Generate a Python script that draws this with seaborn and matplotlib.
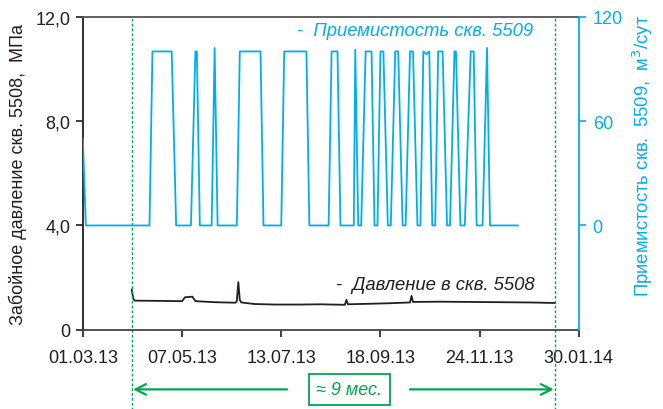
import matplotlib
matplotlib.use('Agg')
import matplotlib.pyplot as plt
import matplotlib.dates as mdates
import seaborn as sns
import pandas as pd

# Приемистость скв. 5509, м3/сут (точки излома кривой)
inj_dates = ['2013-03-01', '2013-03-03', '2013-04-15', '2013-04-17', '2013-04-30', '2013-05-03',
             '2013-05-13', '2013-05-16', '2013-05-17', '2013-05-19', '2013-05-27', '2013-05-29',
             '2013-05-31', '2013-06-13', '2013-06-15', '2013-06-29', '2013-07-01', '2013-07-13',
             '2013-07-15', '2013-07-30', '2013-08-01', '2013-08-14', '2013-08-16', '2013-08-20',
             '2013-08-22', '2013-08-31', '2013-09-01', '2013-09-03', '2013-09-05', '2013-09-08',
             '2013-09-12', '2013-09-14', '2013-09-16', '2013-09-18', '2013-09-20', '2013-09-23',
             '2013-09-25', '2013-09-28', '2013-09-30', '2013-10-03', '2013-10-05', '2013-10-08',
             '2013-10-10', '2013-10-13', '2013-10-15', '2013-10-17', '2013-10-19', '2013-10-21',
             '2013-10-23', '2013-10-25', '2013-10-27', '2013-10-30', '2013-11-02', '2013-11-04',
             '2013-11-07', '2013-11-08', '2013-11-11', '2013-11-14', '2013-11-16', '2013-11-18',
             '2013-11-20', '2013-11-22', '2013-11-26', '2013-11-29', '2013-12-01', '2013-12-20']
inj_values = [50, 0, 0, 100, 100, 0,
              0, 100, 100, 0, 0, 102,
              0, 0, 100, 100, 0, 0,
              100, 100, 0, 0, 100, 100,
              0, 0, 101, 0, 0, 100,
              100, 0, 0, 100, 100, 0,
              0, 100, 100, 0, 0, 100,
              100, 0, 0, 100, 98.5, 100,
              0, 0, 100, 100, 0, 0,
              100, 100, 0, 0, 50, 100,
              100, 0, 0, 102, 0, 0]

# Забойное давление скв. 5508, МПа
pres_dates = ['2013-04-03', '2013-04-04', '2013-04-05', '2013-04-22', '2013-05-07', '2013-05-09',
              '2013-05-14', '2013-05-16', '2013-05-29', '2013-06-12', '2013-06-13', '2013-06-14',
              '2013-06-15', '2013-06-16', '2013-06-25', '2013-07-09', '2013-07-26', '2013-08-08',
              '2013-08-25', '2013-08-26', '2013-08-27', '2013-09-11', '2013-09-24', '2013-10-08',
              '2013-10-09', '2013-10-10', '2013-10-28', '2013-11-17', '2013-12-08', '2013-12-28',
              '2014-01-14']
pres_values = [1.55, 1.20, 1.12, 1.11, 1.10, 1.25,
               1.27, 1.10, 1.06, 1.04, 1.10, 1.83,
               1.15, 1.05, 0.99, 0.97, 0.97, 0.98,
               0.96, 1.15, 0.98, 1.00, 1.02, 1.05,
               1.30, 1.07, 1.08, 1.07, 1.06, 1.05,
               1.03]

tick_dates = ['2013-03-01', '2013-05-07', '2013-07-13', '2013-09-18', '2013-11-24', '2014-01-30']
period = ['2013-04-03', '2014-01-14']

inj = pd.DataFrame({'date': pd.to_datetime(inj_dates), 'q': inj_values})
pres = pd.DataFrame({'date': pd.to_datetime(pres_dates), 'p': pres_values})

CYAN = '#00aeef'
GREEN = '#00a650'
DARK = '#231f20'

sns.set_style('ticks')
plt.rcParams['font.family'] = ['Liberation Sans', 'DejaVu Sans']

fig = plt.figure(figsize=(6.63, 4.10), dpi=100)
ax = fig.add_axes([0.125, 0.193, 0.748, 0.764])
ax2 = ax.twinx()

sns.lineplot(data=pres, x='date', y='p', ax=ax, color=DARK, lw=1.3, estimator=None)
sns.lineplot(data=inj, x='date', y='q', ax=ax2, color=CYAN, lw=1.3, estimator=None)

ax.set_xlim(pd.Timestamp(tick_dates[0]), pd.Timestamp(tick_dates[-1]))
ax.set_ylim(0, 12)
ax2.set_ylim(-60, 120)

ax.set_xticks(pd.to_datetime(tick_dates))
ax.xaxis.set_major_formatter(mdates.DateFormatter('%d.%m.%y'))
ax.set_yticks([0, 4, 8, 12])
ax.set_yticklabels(['0', '4,0', '8,0', '12,0'])
ax2.set_yticks([0, 60, 120])

ax.tick_params(axis='both', labelsize=13, colors=DARK, length=5, width=1.2, pad=4)
ax.tick_params(axis='x', pad=9)
ax2.tick_params(axis='y', labelsize=13, colors=CYAN, length=5, width=1.2, pad=5)

for side in ['left', 'bottom', 'top']:
    ax.spines[side].set_visible(True)
    ax.spines[side].set_linewidth(1.3)
ax.spines['left'].set_color(DARK)
ax.spines['bottom'].set_color('#444444')
ax.spines['top'].set_color('#555555')
ax.spines['right'].set_visible(False)
for side in ['left', 'bottom', 'top']:
    ax2.spines[side].set_visible(False)
ax2.spines['right'].set_visible(True)
ax2.spines['right'].set_color(CYAN)
ax2.spines['right'].set_linewidth(1.3)

ax.set_xlabel('')
ax.set_ylabel('Забойное давление скв. 5508,  МПа', fontsize=13, color=DARK, labelpad=6)
ax2.set_ylabel('Приемистость скв.  5509,  м$^3$/сут', fontsize=13.3, color=CYAN)
ax2.yaxis.set_label_coords(1.106, 0.56)

# подписи кривых
ax.text(0.432, 0.955, '-  Приемистость скв. 5509', transform=ax.transAxes, fontsize=13.3,
        style='italic', color=CYAN, va='center', ha='left')
ax.text(0.51, 0.145, '-  Давление в скв. 5508', transform=ax.transAxes, fontsize=13.3,
        style='italic', color=DARK, va='center', ha='left')

# период наблюдений
for d in period:
    ax.axvline(pd.Timestamp(d), ymin=-0.255, ymax=1, color=GREEN, lw=1, ls=(0, (2, 1.5)),
               clip_on=False)

y_arr = -0.19
arrow_kw = dict(arrowstyle='->,head_length=0.75,head_width=0.38', color=GREEN, lw=1.6,
                shrinkA=0, shrinkB=1)
ax.annotate('', xy=(pd.Timestamp(period[0]), y_arr), xytext=(pd.Timestamp('2013-07-17'), y_arr),
            xycoords=('data', 'axes fraction'), textcoords=('data', 'axes fraction'),
            arrowprops=arrow_kw, annotation_clip=False)
ax.annotate('', xy=(pd.Timestamp(period[1]), y_arr), xytext=(pd.Timestamp('2013-10-08'), y_arr),
            xycoords=('data', 'axes fraction'), textcoords=('data', 'axes fraction'),
            arrowprops=arrow_kw, annotation_clip=False)
ax.annotate('≈ 9 мес.', xy=(pd.Timestamp('2013-08-28'), y_arr),
            xycoords=('data', 'axes fraction'), ha='center', va='center', fontsize=13,
            style='italic', color=GREEN, annotation_clip=False,
            bbox=dict(boxstyle='square,pad=0.4', fc='white', ec=GREEN, lw=1.3))

fig.savefig('out.png', dpi=100)
